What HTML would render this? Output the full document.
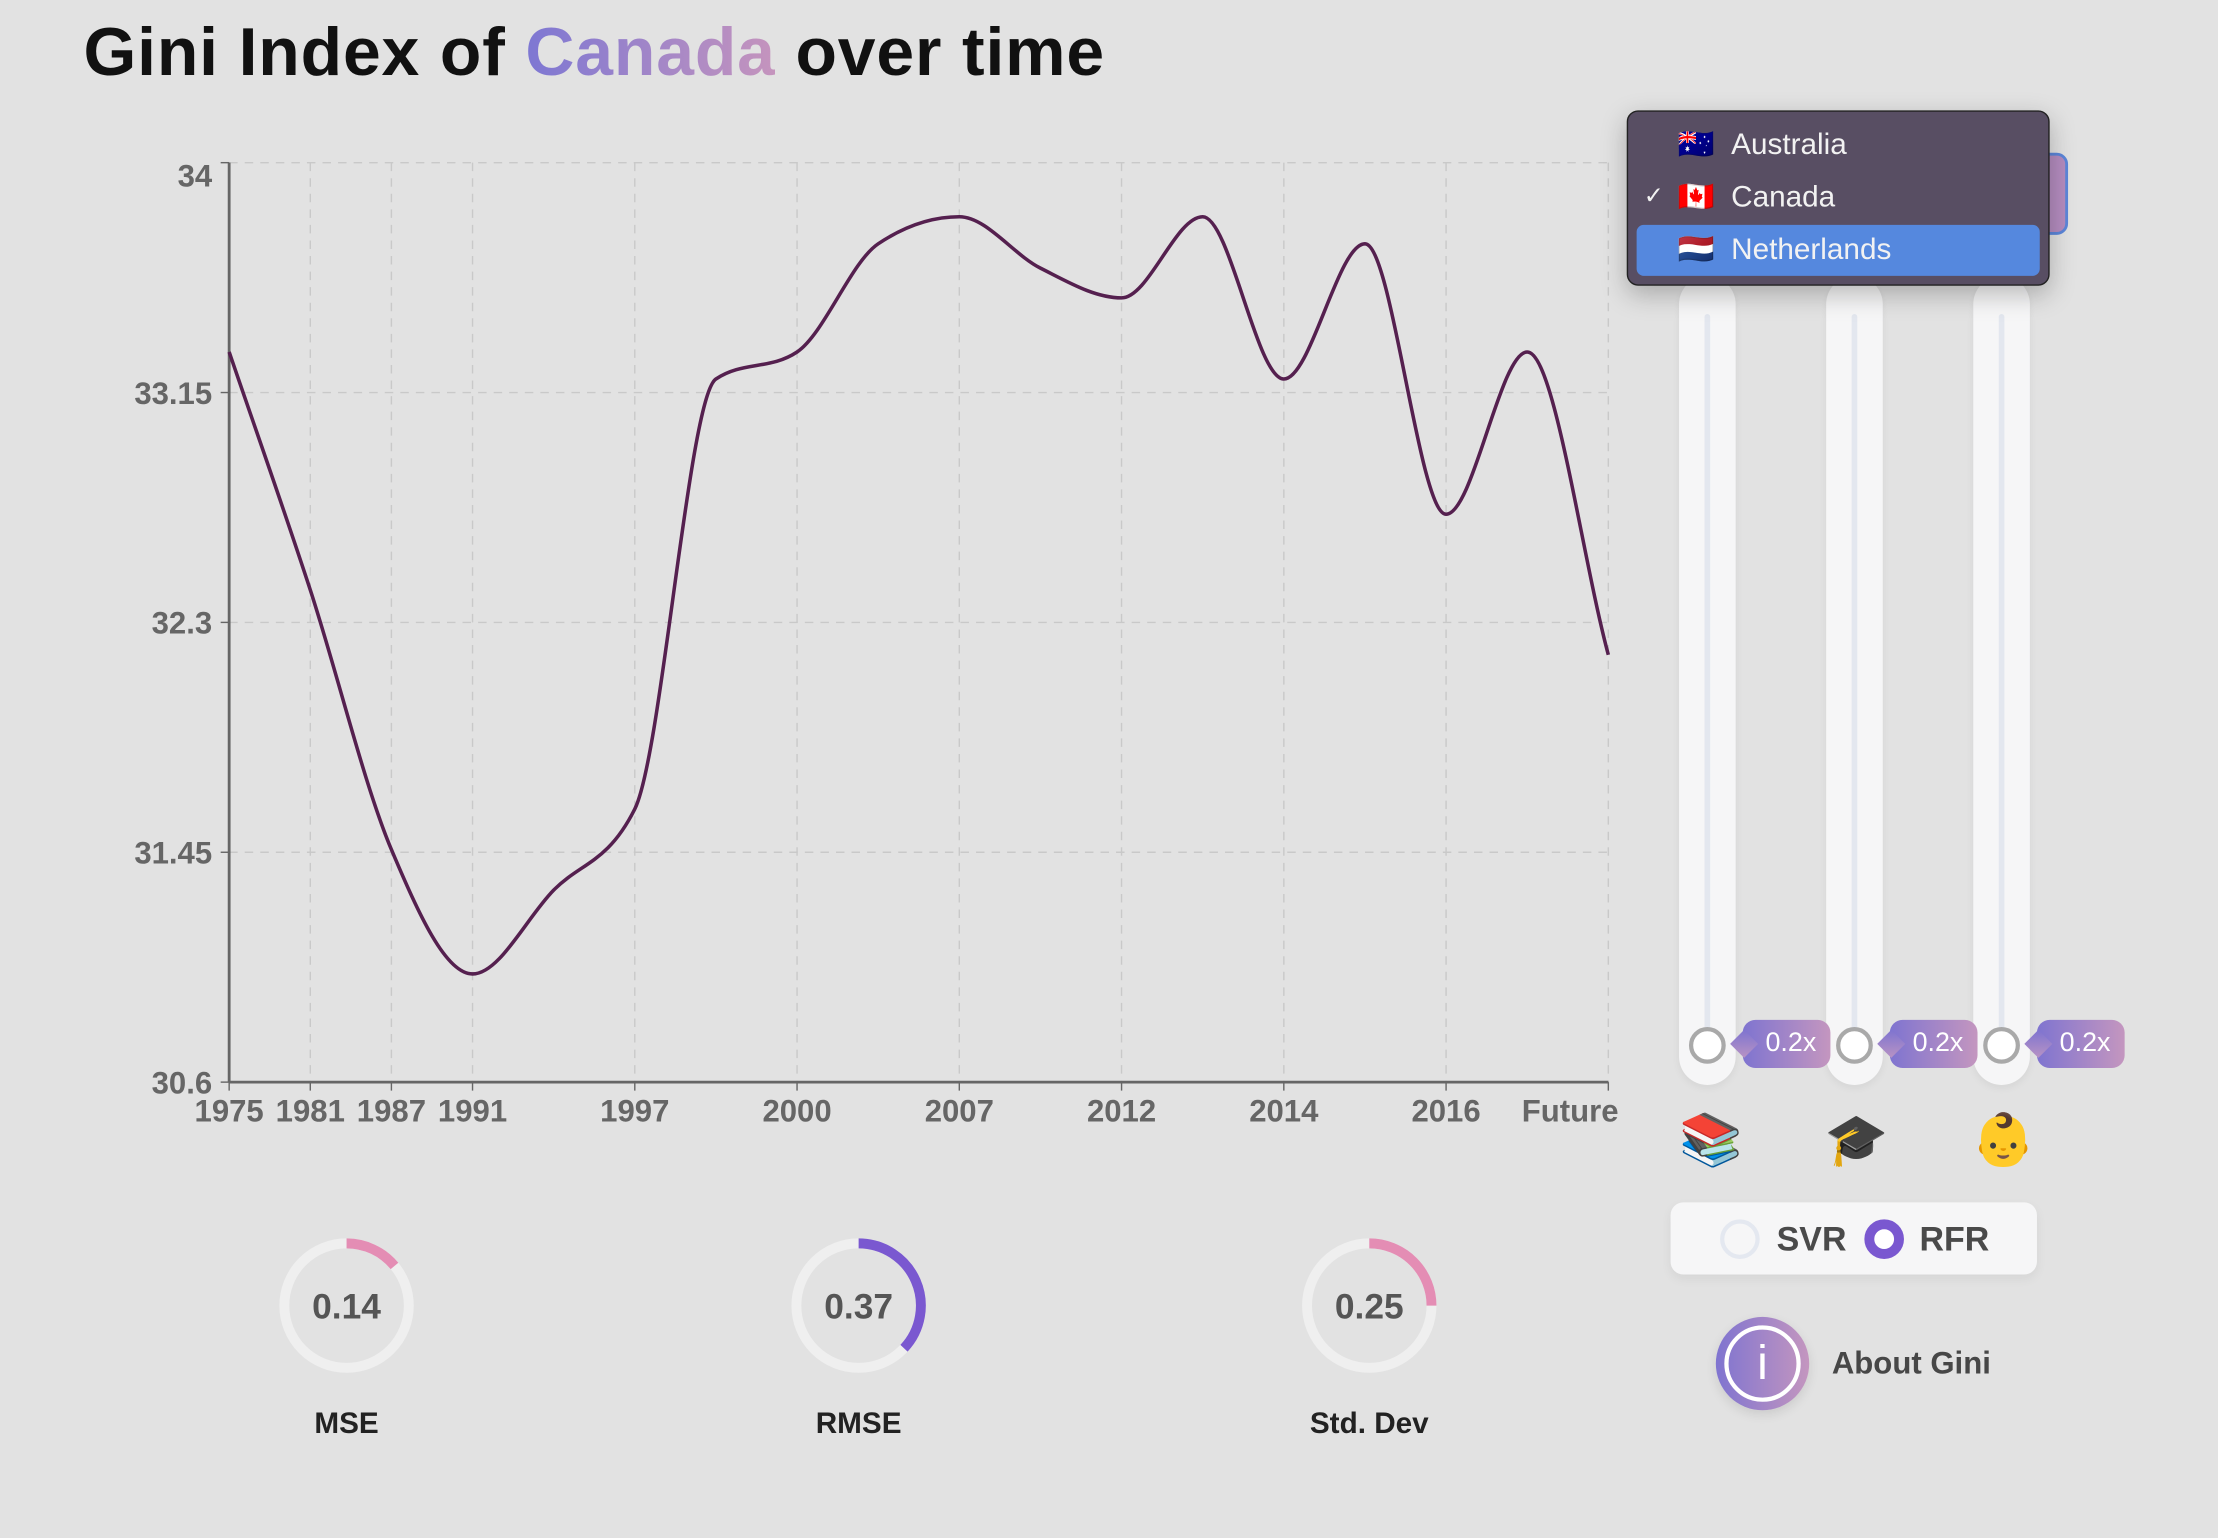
<!DOCTYPE html>
<html><head><meta charset="utf-8">
<style>
html,body{margin:0;padding:0;background:#e2e2e2;overflow:hidden;width:2218px;height:1538px}
#wrap{position:absolute;left:0;top:0;width:1568px;height:1087px;transform:scale(1.41454);transform-origin:0 0;font-family:"Liberation Sans",sans-serif}
.abs{position:absolute}
.track{position:absolute;top:195px;width:40px;height:572px;background:#f6f6f7;border-radius:20px;box-shadow:0 2px 6px rgba(0,0,0,0.06)}
.track .line{position:absolute;left:18px;top:27px;width:4px;height:513px;background:#e3e7ef;border-radius:2px}
.knob{position:absolute;width:20px;height:20px;border-radius:50%;background:#fff;border:3px solid #a9a9a9;top:531px;left:7px}
.badge{position:absolute;top:721px;width:62px;height:34px;border-radius:9px;background:linear-gradient(90deg,#7f74d0,#c496bf);color:#fff;font-size:19px;line-height:34px;text-align:right;padding-right:10px;box-sizing:border-box}
.badge:before{content:"";position:absolute;left:-6px;top:10px;width:14px;height:14px;background:linear-gradient(135deg,#7f74d0,#b893c4);transform:rotate(45deg)}
.emoji{position:absolute;top:785px;font-size:36px;font-family:"Noto Color Emoji","DejaVu Sans",sans-serif}
</style></head><body>
<div id="wrap">
<div class="abs" style="left:59px;top:10px;font-size:48px;font-weight:bold;color:#111;letter-spacing:0.6px">Gini Index of <span style="background:linear-gradient(90deg,#7d77d3,#c594bd);-webkit-background-clip:text;background-clip:text;color:transparent">Canada</span> over time</div>

<svg id="chart" class="abs" style="left:0;top:0" width="1150" height="820"></svg>

<svg id="gauges" class="abs" style="left:0;top:840px" width="1150" height="200"></svg>

<div class="abs" style="left:1400px;top:108px;width:62px;height:58px;border-radius:8px;background:#b48cbf;border:2px solid #5c86d9;box-sizing:border-box"></div>

<div class="track" style="left:1187px"><div class="line"></div><div class="knob"></div></div>
<div class="track" style="left:1291px"><div class="line"></div><div class="knob"></div></div>
<div class="track" style="left:1395px"><div class="line"></div><div class="knob"></div></div>
<div class="badge" style="left:1232px">0.2x</div>
<div class="badge" style="left:1336px">0.2x</div>
<div class="badge" style="left:1440px">0.2x</div>

<div class="emoji" style="left:1187px">📚</div>
<div class="emoji" style="left:1290px">🎓</div>
<div class="emoji" style="left:1394px">👶</div>

<div class="abs" style="left:1150px;top:78px;width:299px;height:124px;background:#584e63;border:1px solid #222;border-radius:8px;box-shadow:0 6px 18px rgba(0,0,0,0.25);box-sizing:border-box;color:#f2f2f2;font-size:21px">
  <div class="abs" style="left:35px;top:12px">🇦🇺 &nbsp;Australia</div>
  <div class="abs" style="left:11px;top:50px;font-size:17px">✓</div>
  <div class="abs" style="left:35px;top:49px">🇨🇦 &nbsp;Canada</div>
  <div class="abs" style="left:6px;top:80px;width:285px;height:36px;background:#5588de;border-radius:5px"><span style="position:absolute;left:29px;top:6px">🇳🇱 &nbsp;Netherlands</span></div>
</div>

<div class="abs" style="left:1181px;top:850px;width:259px;height:51px;background:#f6f6f7;border-radius:9px;box-shadow:0 3px 8px rgba(0,0,0,0.06)">
  <div class="abs" style="left:35px;top:12px;width:22px;height:22px;border:3px solid #e4e8f0;border-radius:50%;background:#f6f6f7"></div>
  <div class="abs" style="left:75px;top:13px;font-size:24px;font-weight:bold;color:#4a4a4a">SVR</div>
  <div class="abs" style="left:137px;top:12px;width:14px;height:14px;border:7px solid #7a58d0;border-radius:50%;background:#fff"></div>
  <div class="abs" style="left:176px;top:13px;font-size:24px;font-weight:bold;color:#4a4a4a">RFR</div>
</div>

<div class="abs" style="left:1213px;top:931px;width:66px;height:66px;border-radius:50%;background:linear-gradient(90deg,#7f74d0,#c496bf);box-shadow:0 3px 8px rgba(0,0,0,0.1)">
  <div class="abs" style="left:6px;top:6px;width:48px;height:48px;border:3px solid #fff;border-radius:50%;color:#fff;font-size:34px;text-align:center;line-height:48px">i</div>
</div>
<div class="abs" style="left:1295px;top:951px;font-size:22px;font-weight:bold;color:#474747">About Gini</div>
</div>

<script>
const categories=["1975","1981","1987","1991","1994","1997","1998","2000","2004","2007","2010","2012","2013","2014","2015","2016","2017","Future"];
const showLabel=[1,1,1,1,0,1,0,1,0,1,0,1,0,1,0,1,0,1];
const giniValues=[33.30,32.42,31.46,31.00,31.31,31.61,33.20,33.30,33.70,33.80,33.61,33.50,33.80,33.20,33.70,32.70,33.30,32.18];
const yTicks=[30.6,31.45,32.3,33.15,34];
const metricNames=["MSE","RMSE","Std. Dev"];
const metricValues=[0.14,0.37,0.25];

const NS="http://www.w3.org/2000/svg";
function mk(tag,attrs,parent){const e=document.createElementNS(NS,tag);for(const k in attrs)e.setAttribute(k,attrs[k]);parent.appendChild(e);return e;}
const svg=document.getElementById('chart');
const X0=162,X1=1137,Y0=765,Y1=115,yMin=30.6,yMax=34;
const xs=i=>X0+(X1-X0)*i/(categories.length-1);
const ys=v=>Y0-(v-yMin)/(yMax-yMin)*(Y0-Y1);

yTicks.forEach((t,i)=>{
  const y=ys(t);
  if(i>0){const g=mk('line',{x1:X0,x2:X1,y1:y,y2:y,stroke:'#c9c9c9','stroke-dasharray':'6,5'},svg);
  }
  mk('line',{x1:X0-6,x2:X0,y1:y,y2:y,stroke:'#666'},svg);
  const t2=mk('text',{x:X0-12,y:y+(i==yTicks.length-1?17:8),'text-anchor':'end','font-size':'22','font-weight':'bold',fill:'#666','font-family':'Liberation Sans'},svg);
  t2.textContent=t;
  
  
});
categories.forEach((c,i)=>{
  if(!showLabel[i])return;
  const x=xs(i);
  if(i>0){const g=mk('line',{x1:x,x2:x,y1:Y1,y2:Y0,stroke:'#c9c9c9','stroke-dasharray':'6,5'},svg);
  }
  mk('line',{x1:x,x2:x,y1:Y0,y2:Y0+6,stroke:'#666'},svg);
  const t=mk('text',{x:i==categories.length-1?x-27:x,y:Y0+28,'text-anchor':'middle','font-size':'22','font-weight':'bold',fill:'#666','font-family':'Liberation Sans'},svg);
  t.textContent=c;
  
  
});
const ax=mk('line',{x1:X0,x2:X0,y1:Y1,y2:Y0,stroke:'#666','stroke-width':2},svg);

const bx=mk('line',{x1:X0,x2:X1,y1:Y0,y2:Y0,stroke:'#666','stroke-width':2},svg);


const px=categories.map((c,i)=>xs(i)),py=giniValues.map(ys);
const n=px.length,m=[],d=[];
for(let i=0;i<n-1;i++)d.push((py[i+1]-py[i])/(px[i+1]-px[i]));
for(let i=0;i<n;i++){
  if(i==0)m.push(d[0]);else if(i==n-1)m.push(d[n-2]);
  else{ if(d[i-1]*d[i]<=0)m.push(0);else{const h0=px[i]-px[i-1],h1=px[i+1]-px[i];
    const p=(d[i-1]*h1+d[i]*h0)/(h0+h1);
    m.push((Math.sign(d[i-1])+Math.sign(d[i]))*Math.min(Math.abs(d[i-1]),Math.abs(d[i]),0.5*Math.abs(p)));}}
}
let path=`M${px[0]},${py[0]}`;
for(let i=0;i<n-1;i++){const h=(px[i+1]-px[i])/3;
  path+=` C${px[i]+h},${py[i]+m[i]*h} ${px[i+1]-h},${py[i+1]-m[i+1]*h} ${px[i+1]},${py[i+1]}`;}
const ln=mk('path',{d:path,fill:'none',stroke:'#55204f','stroke-width':2.5},svg);


const gs=document.getElementById('gauges');
const gx=[245,607,968],gcol=['#e48db4','#7a58d0','#e48db4'],R=44;
metricValues.forEach((v,i)=>{
  const cx=gx[i],cy=83;
  const bg=mk('circle',{cx:cx,cy:cy,r:R,fill:'none',stroke:'#efefef','stroke-width':7},gs);
  
  const a=v*2*Math.PI;
  const ex=cx+R*Math.sin(a),ey=cy-R*Math.cos(a);
  const arc=mk('path',{d:`M${cx},${cy-R} A${R},${R} 0 ${v>0.5?1:0} 1 ${ex},${ey}`,fill:'none',stroke:gcol[i],'stroke-width':7},gs);
  
  const t=mk('text',{x:cx,y:cy+9,'text-anchor':'middle','font-size':'25','font-weight':'bold',fill:'#555','font-family':'Liberation Sans'},gs);
  t.textContent=v.toFixed(2);
  
  const l=mk('text',{x:cx,y:cy+90,'text-anchor':'middle','font-size':'21','font-weight':'bold',fill:'#222','font-family':'Liberation Sans'},gs);
  l.textContent=metricNames[i];
  
});
</script>
</body></html>
